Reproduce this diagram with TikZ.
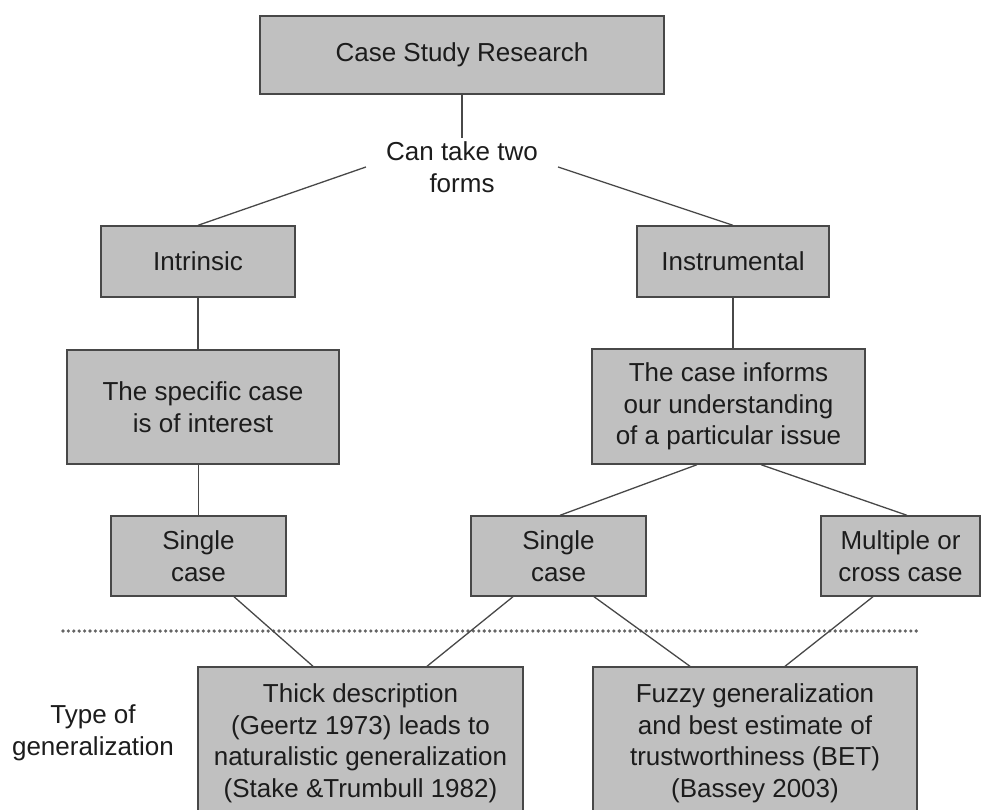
\documentclass[tikz,border=0pt]{standalone}
\usepackage{fontspec}
\setmainfont{Liberation Sans}
\definecolor{boxgray}{RGB}{192,192,192}
\definecolor{edgegray}{RGB}{72,72,72}
\definecolor{inkgray}{RGB}{28,28,28}
\definecolor{dotgray}{RGB}{100,100,100}
\tikzstyle{CaseBox}=[rectangle, draw=edgegray, fill=boxgray, line width=1.4pt, align=center, text=inkgray, inner sep=0pt]
\tikzstyle{PlainText}=[align=center, text=inkgray]
\tikzstyle{Link}=[draw=edgegray, line width=1.3pt]
\tikzstyle{Divider}=[draw=dotgray, line width=3.6pt, line cap=round, dash pattern=on 0pt off 5.4pt]

\begin{document}
\begin{tikzpicture}[x=1pt, y=-1pt, font=\fontsize{26}{31.5}\selectfont]
	\useasboundingbox (0,0) rectangle (983,810);

	%Nodes
	\node[CaseBox, minimum width=404pt, minimum height=78pt]	(research)		at (462,55)		{Case Study Research};
	\node[PlainText, inner xsep=20pt]				(forms)		at (462,167)		{Can take two\\forms};

	\node[CaseBox, minimum width=194pt, minimum height=71pt]	(intrinsic)		at (198,261.5)	{Intrinsic};
	\node[CaseBox, minimum width=192pt, minimum height=71pt]	(instrumental)	at (733,261.5)	{Instrumental};

	\node[CaseBox, minimum width=272pt, minimum height=114pt]	(specific)		at (203,407)		{The specific case\\is of interest};
	\node[CaseBox, minimum width=273pt, minimum height=115pt]	(informs)		at (728.5,406.5)	{The case informs\\our understanding\\of a particular issue};

	\node[CaseBox, minimum width=175pt, minimum height=80pt]	(single_a)		at (198.5,556)	{Single\\case};
	\node[CaseBox, minimum width=175pt, minimum height=80pt]	(single_b)		at (558.5,556)	{Single\\case};
	\node[CaseBox, minimum width=159pt, minimum height=80pt]	(multiple)		at (900.5,556)	{Multiple or\\cross case};

	\node[PlainText]								(gen_type)		at (93,733)		{Type of\\generalization};
	\node[CaseBox, minimum width=325pt, minimum height=153pt]	(thick)		at (360.5,743.5)	{Thick description\\(Geertz 1973) leads to\\naturalistic generalization\\(Stake \&Trumbull 1982)};
	\node[CaseBox, minimum width=324pt, minimum height=153pt]	(fuzzy)		at (755,743.5)	{Fuzzy generalization\\and best estimate of\\trustworthiness (BET)\\(Bassey 2003)};

	\coordinate (rule_l) at (63,631);
	\coordinate (rule_r) at (918,631);

	%Lines
	\draw[Divider] (rule_l) -- (rule_r);

	\draw[Link] (research.south) -- (forms.north);
	\draw[Link] (forms.west) -- (intrinsic.north);
	\draw[Link] (forms.east) -- (instrumental.north);

	\draw[Link] (intrinsic.south) -- (intrinsic.south |- specific.north);
	\draw[Link] (single_a.north |- specific.south) -- (single_a.north);
	\draw[Link] (instrumental.south) -- (instrumental.south |- informs.north);

	\draw[Link] ([xshift=-31.5pt]informs.south) -- ([xshift=1.5pt]single_b.north);
	\draw[Link] ([xshift=32.5pt]informs.south) -- ([xshift=6.5pt]multiple.north);

	\draw[Link] ([xshift=35.5pt]single_a.south) -- ([xshift=-47.5pt]thick.north);
	\draw[Link] ([xshift=-45.5pt]single_b.south) -- ([xshift=66.5pt]thick.north);
	\draw[Link] ([xshift=35.5pt]single_b.south) -- ([xshift=-65pt]fuzzy.north);
	\draw[Link] ([xshift=-27.5pt]multiple.south) -- ([xshift=30pt]fuzzy.north);

\end{tikzpicture}
\end{document}
